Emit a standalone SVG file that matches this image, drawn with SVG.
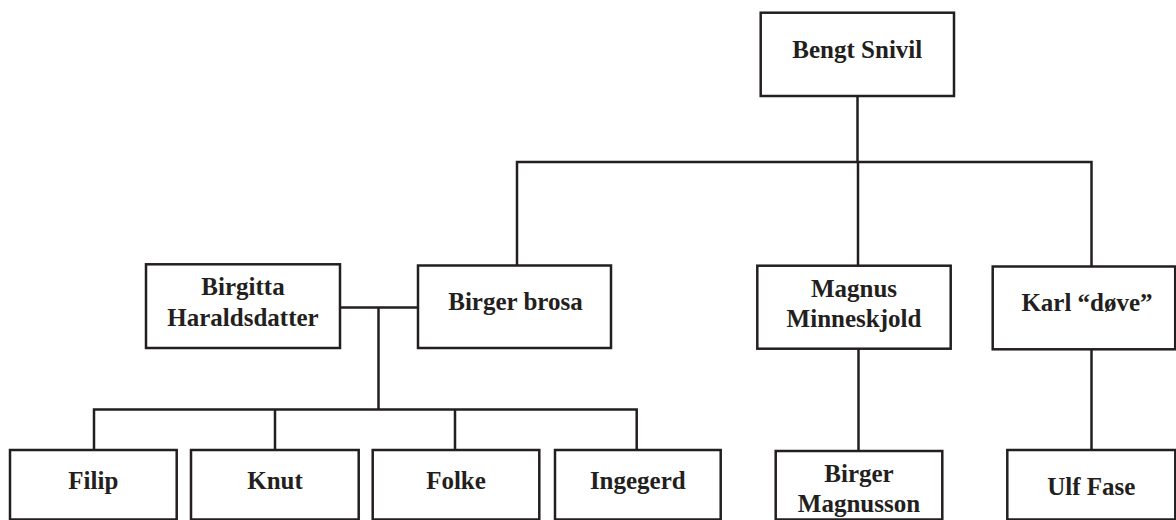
<svg xmlns="http://www.w3.org/2000/svg" width="1176" height="520" viewBox="0 0 1176 520">
<style>
.box{fill:#fff;stroke:#231f20;stroke-width:2.5}
.ln{fill:none;stroke:#231f20;stroke-width:2.5}
.t{font-family:'Liberation Serif','DejaVu Serif',serif;font-weight:700;font-size:25px;fill:#231f20;text-anchor:middle}
</style>
<rect width="1176" height="520" fill="#fff"/>
<g id="connectors">
<path class="ln" d="M857.5 96 V162 M517 266 V162 H1091.5 V266"/>
<path class="ln" d="M858 162 V266"/>
<path class="ln" d="M340 307.5 H418 M378.5 307.5 V409.5 M94 450 V409.5 H636.7 V450 M275 409.5 V450 M455 409.5 V450"/>
<path class="ln" d="M858.5 349 V451"/>
<path class="ln" d="M1091.5 349 V450"/>
</g>
<g id="bengt"><rect class="box" x="760.7" y="12.7" width="193.3" height="83.3"/><text class="t" x="857.3" y="58">Bengt Snivil</text></g>
<g id="birgitta"><rect class="box" x="146" y="264.3" width="194" height="83.7"/><text class="t" x="243" y="295">Birgitta</text><text class="t" x="243" y="325.5">Haraldsdatter</text></g>
<g id="birger-brosa"><rect class="box" x="418" y="265.5" width="193" height="82.5"/><text class="t" x="515.5" y="310">Birger brosa</text></g>
<g id="magnus"><rect class="box" x="757.3" y="265.7" width="193.4" height="83"/><text class="t" x="854" y="296.7">Magnus</text><text class="t" x="854" y="327.3">Minneskjold</text></g>
<g id="karl"><rect class="box" x="992.7" y="266.5" width="182.5" height="82.8"/><text class="t" x="1087" y="310.7">Karl “døve”</text></g>
<g id="filip"><rect class="box" x="10" y="450" width="166.7" height="69.5"/><text class="t" x="93.3" y="489.3">Filip</text></g>
<g id="knut"><rect class="box" x="191" y="450" width="167.7" height="69.5"/><text class="t" x="275" y="489.3">Knut</text></g>
<g id="folke"><rect class="box" x="372.7" y="450" width="166.6" height="69.5"/><text class="t" x="456" y="489.3">Folke</text></g>
<g id="ingegerd"><rect class="box" x="555" y="450" width="165.7" height="69.5"/><text class="t" x="637.8" y="489.3">Ingegerd</text></g>
<g id="birger-magnusson"><rect class="box" x="775.7" y="451" width="166.6" height="68.5"/><text class="t" x="859" y="481.7">Birger</text><text class="t" x="859" y="511.7">Magnusson</text></g>
<g id="ulf"><rect class="box" x="1007.3" y="450" width="168" height="69.5"/><text class="t" x="1091.3" y="495">Ulf Fase</text></g>
</svg>
